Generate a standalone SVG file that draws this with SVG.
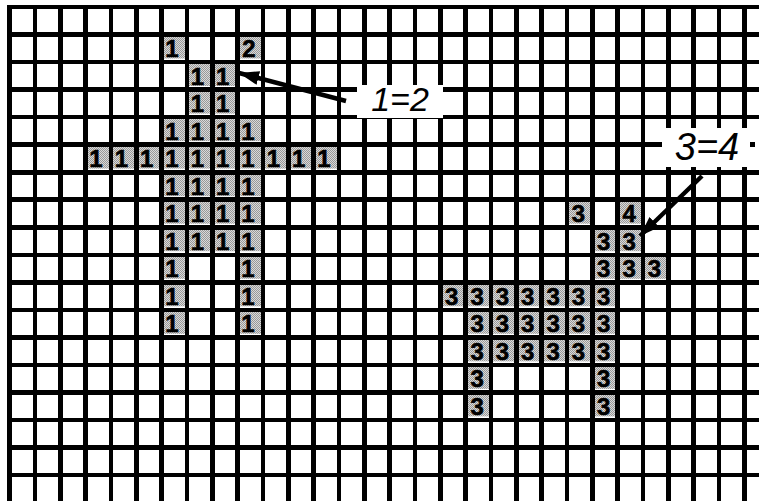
<svg xmlns="http://www.w3.org/2000/svg" width="759" height="501" viewBox="0 0 759 501">
<defs>
<pattern id="dots" width="2" height="2" patternUnits="userSpaceOnUse">
<rect width="2" height="2" fill="#d9d9d9"/>
<rect width="1" height="1" fill="#989898"/>
<rect x="1" y="1" width="1" height="1" fill="#989898"/>
</pattern>
<marker id="head" markerUnits="userSpaceOnUse" markerWidth="24" markerHeight="16" refX="20" refY="7" orient="auto">
<path d="M0,0 L20,7 L0,14 Z" fill="#000"/>
</marker>
<style>
.grid{fill:none;stroke:#000;stroke-width:4.6;shape-rendering:crispEdges}
.c{fill:url(#dots)}
.d{font-family:"Liberation Sans",Arial,sans-serif;font-weight:bold;font-size:24px;fill:#000;stroke:#000;stroke-width:0.6;text-anchor:middle}
.lbl{font-family:"Liberation Sans",Arial,sans-serif;font-style:italic;font-size:34px;fill:#000;text-anchor:middle}
.box{fill:#fff}
.arrow{stroke:#000;stroke-width:4.5;fill:none;marker-end:url(#head)}
</style>
</defs>
<rect width="759" height="501" fill="#fff"/>

<g id="shape1">
<rect class="c" x="161.5" y="36.5" width="25.3" height="22"/>
<rect class="c" x="237.6" y="36.5" width="25.3" height="22"/>
<rect class="c" x="186.9" y="64" width="50.7" height="22"/>
<rect class="c" x="186.9" y="91.6" width="50.7" height="22"/>
<rect class="c" x="161.5" y="119.1" width="101.4" height="22"/>
<rect class="c" x="85.5" y="146.6" width="253.4" height="22"/>
<rect class="c" x="161.5" y="174.2" width="101.4" height="22"/>
<rect class="c" x="161.5" y="201.7" width="101.4" height="22"/>
<rect class="c" x="161.5" y="229.2" width="101.4" height="22"/>
<rect class="c" x="161.5" y="256.8" width="25.3" height="22"/>
<rect class="c" x="237.6" y="256.8" width="25.3" height="22"/>
<rect class="c" x="161.5" y="284.3" width="25.3" height="22"/>
<rect class="c" x="237.6" y="284.3" width="25.3" height="22"/>
<rect class="c" x="161.5" y="311.8" width="25.3" height="22"/>
<rect class="c" x="237.6" y="311.8" width="25.3" height="22"/>
</g>

<g id="shape2">
<rect class="c" x="567" y="201.7" width="25.3" height="22"/>
<rect class="c" x="617.7" y="201.7" width="25.3" height="22"/>
<rect class="c" x="592.3" y="229.2" width="50.7" height="22"/>
<rect class="c" x="592.3" y="256.8" width="76" height="22"/>
<rect class="c" x="440.3" y="284.3" width="177.4" height="22"/>
<rect class="c" x="465.6" y="311.8" width="152" height="22"/>
<rect class="c" x="465.6" y="339.4" width="152" height="22"/>
<rect class="c" x="465.6" y="366.9" width="25.3" height="22"/>
<rect class="c" x="592.3" y="366.9" width="25.3" height="22"/>
<rect class="c" x="465.6" y="394.4" width="25.3" height="22"/>
<rect class="c" x="592.3" y="394.4" width="25.3" height="22"/>
</g>

<g id="grid">
<path class="grid" d="M9.5,5 V501 M34.8,5 V501 M60.2,5 V501 M85.5,5 V501 M110.9,5 V501 M136.2,5 V501 M161.5,5 V501 M186.9,5 V501 M212.2,5 V501 M237.6,5 V501 M262.9,5 V501 M288.2,5 V501 M313.6,5 V501 M338.9,5 V501 M364.3,5 V501 M389.6,5 V501 M414.9,5 V501 M440.3,5 V501 M465.6,5 V501 M491,5 V501 M516.3,5 V501 M541.6,5 V501 M567,5 V501 M592.3,5 V501 M617.7,5 V501 M643,5 V501 M668.3,5 V501 M693.7,5 V501 M719,5 V501 M744.4,5 V501
M7,7 H759 M7,34.5 H759 M7,62.1 H759 M7,89.6 H759 M7,117.1 H759 M7,144.7 H759 M7,172.2 H759 M7,199.7 H759 M7,227.2 H759 M7,254.8 H759 M7,282.3 H759 M7,309.8 H759 M7,337.4 H759 M7,364.9 H759 M7,392.4 H759 M7,420 H759 M7,447.5 H759 M7,475 H759"/>
</g>

<g id="digits1">
<text class="d" x="172" y="57">1</text>
<text class="d" x="249" y="57">2</text>
<text class="d" x="197.4" y="85">1</text>
<text class="d" x="222.7" y="85">1</text>
<text class="d" x="197.4" y="112">1</text>
<text class="d" x="222.7" y="112">1</text>
<text class="d" x="172" y="140">1</text>
<text class="d" x="197.4" y="140">1</text>
<text class="d" x="222.7" y="140">1</text>
<text class="d" x="248" y="140">1</text>
<text class="d" x="96" y="167">1</text>
<text class="d" x="121.4" y="167">1</text>
<text class="d" x="146.7" y="167">1</text>
<text class="d" x="172" y="167">1</text>
<text class="d" x="197.4" y="167">1</text>
<text class="d" x="222.7" y="167">1</text>
<text class="d" x="248" y="167">1</text>
<text class="d" x="273.4" y="167">1</text>
<text class="d" x="298.7" y="167">1</text>
<text class="d" x="324" y="167">1</text>
<text class="d" x="172" y="195">1</text>
<text class="d" x="197.4" y="195">1</text>
<text class="d" x="222.7" y="195">1</text>
<text class="d" x="248" y="195">1</text>
<text class="d" x="172" y="222">1</text>
<text class="d" x="197.4" y="222">1</text>
<text class="d" x="222.7" y="222">1</text>
<text class="d" x="248" y="222">1</text>
<text class="d" x="172" y="250">1</text>
<text class="d" x="197.4" y="250">1</text>
<text class="d" x="222.7" y="250">1</text>
<text class="d" x="248" y="250">1</text>
<text class="d" x="172" y="277">1</text>
<text class="d" x="248" y="277">1</text>
<text class="d" x="172" y="305">1</text>
<text class="d" x="248" y="305">1</text>
<text class="d" x="172" y="332">1</text>
<text class="d" x="248" y="332">1</text>
</g>

<g id="digits2">
<text class="d" x="578.5" y="222">3</text>
<text class="d" x="629.2" y="222">4</text>
<text class="d" x="603.8" y="250">3</text>
<text class="d" x="629.2" y="250">3</text>
<text class="d" x="603.8" y="277">3</text>
<text class="d" x="629.2" y="277">3</text>
<text class="d" x="654.5" y="277">3</text>
<text class="d" x="451.8" y="305">3</text>
<text class="d" x="477.1" y="305">3</text>
<text class="d" x="502.5" y="305">3</text>
<text class="d" x="527.8" y="305">3</text>
<text class="d" x="553.1" y="305">3</text>
<text class="d" x="578.5" y="305">3</text>
<text class="d" x="603.8" y="305">3</text>
<text class="d" x="477.1" y="332">3</text>
<text class="d" x="502.5" y="332">3</text>
<text class="d" x="527.8" y="332">3</text>
<text class="d" x="553.1" y="332">3</text>
<text class="d" x="578.5" y="332">3</text>
<text class="d" x="603.8" y="332">3</text>
<text class="d" x="477.1" y="360">3</text>
<text class="d" x="502.5" y="360">3</text>
<text class="d" x="527.8" y="360">3</text>
<text class="d" x="553.1" y="360">3</text>
<text class="d" x="578.5" y="360">3</text>
<text class="d" x="603.8" y="360">3</text>
<text class="d" x="477.1" y="387">3</text>
<text class="d" x="603.8" y="387">3</text>
<text class="d" x="477.1" y="415">3</text>
<text class="d" x="603.8" y="415">3</text>
</g>

<g id="label12">
<rect class="box" x="357" y="85" width="86" height="33"/>
<text class="lbl" x="400" y="111">1=2</text>
</g>

<g id="label34">
<rect class="box" x="662" y="128" width="88" height="39"/>
<rect class="box" x="755" y="140" width="4" height="9"/>
<text class="lbl" x="707" y="160" style="font-size:38px">3=4</text>
</g>

<g id="connectors">
<line class="arrow" x1="346" y1="101" x2="239" y2="73"/>
<line class="arrow" x1="702" y1="176" x2="640" y2="236"/>
</g>
</svg>
